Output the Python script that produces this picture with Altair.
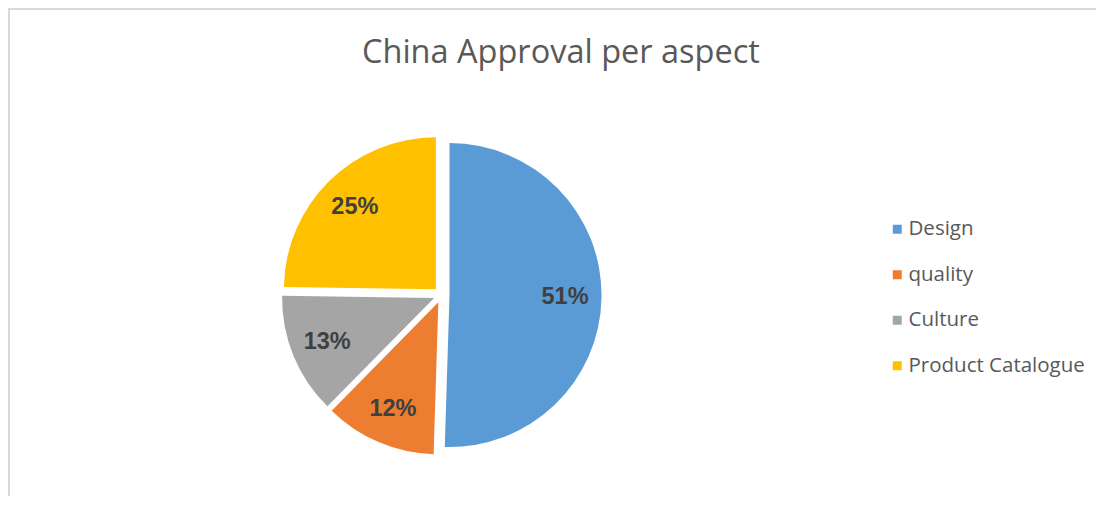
import altair as alt
import pandas as pd

# ---- data ----
categories = ["Design", "quality", "Culture", "Product Catalogue"]
values = [51, 12, 13, 25]
labels = ["51%", "12%", "13%", "25%"]
colors = ["#5B9BD5", "#ED7D31", "#A5A5A5", "#FFC000"]
title_text = "China Approval per aspect"

df = pd.DataFrame({
    "aspect": categories,
    "value": values,
    "label": labels,
    "order": list(range(len(categories))),
})

W, H = 1088, 488
CX, CY, R, EXPLODE = 433.5, 287, 152, 8

base = (
    alt.Chart(df)
    .transform_joinaggregate(total="sum(value)")
    .transform_window(cum="sum(value)", sort=[alt.SortField("order")], frame=[None, 0])
    .transform_calculate(
        mid="2*PI*(datum.cum - datum.value/2)/datum.total",
    )
    .transform_calculate(
        cx=f"{CX} + {EXPLODE}*sin(datum.mid)",
        cy=f"{CY} - {EXPLODE}*cos(datum.mid)",
    )
)

color_enc = alt.Color(
    "aspect:N",
    scale=alt.Scale(domain=categories, range=colors),
    sort=categories,
    legend=alt.Legend(
        title=None,
        orient="none",
        legendX=879,
        legendY=211,
        padding=0,
        symbolType="square",
        symbolSize=81,
        symbolStrokeWidth=0,
        labelFont="Open Sans",
        labelFontSize=20.5,
        labelColor="#595959",
        labelOffset=1,
        labelLimit=400,
        rowPadding=24.5,
    ),
)

pie = base.mark_arc(radius=R).encode(
    theta=alt.Theta("value:Q", stack=True),
    order=alt.Order("order:Q"),
    color=color_enc,
    x=alt.X("cx:Q", scale=None),
    y=alt.Y("cy:Q", scale=None),
)

text = base.mark_text(
    radius=R * 0.76,
    font="Liberation Sans",
    fontSize=23.5,
    fontWeight="bold",
    color="#404040",
).encode(
    theta=alt.Theta("value:Q", stack=True),
    order=alt.Order("order:Q"),
    text="label:N",
    x=alt.X("cx:Q", scale=None),
    y=alt.Y("cy:Q", scale=None),
)

frame_df = pd.DataFrame({"a": [0]})
top_line = alt.Chart(frame_df).mark_rule(color="#D9D9D9", strokeWidth=2).encode(
    x=alt.value(0), x2=alt.value(W), y=alt.value(1)
)
left_line = alt.Chart(frame_df).mark_rule(color="#D9D9D9", strokeWidth=2).encode(
    x=alt.value(1), y=alt.value(0), y2=alt.value(H)
)

chart = (
    alt.layer(top_line, left_line, pie, text)
    .properties(
        width=W,
        height=H,
        autosize=alt.AutoSizeParams(type="none"),
        padding=0,
        title=alt.TitleParams(
            title_text,
            font="Open Sans",
            fontSize=32.5,
            fontWeight="normal",
            color="#595959",
            anchor="start",
            baseline="alphabetic",
            offset=0,
            dy=88,
            dx=355,
        ),
    )
    .configure_view(strokeWidth=0, stroke="transparent")
    .configure(background="white")
)

chart.save("out.html", embed_options={"renderer": "svg", "actions": False})
